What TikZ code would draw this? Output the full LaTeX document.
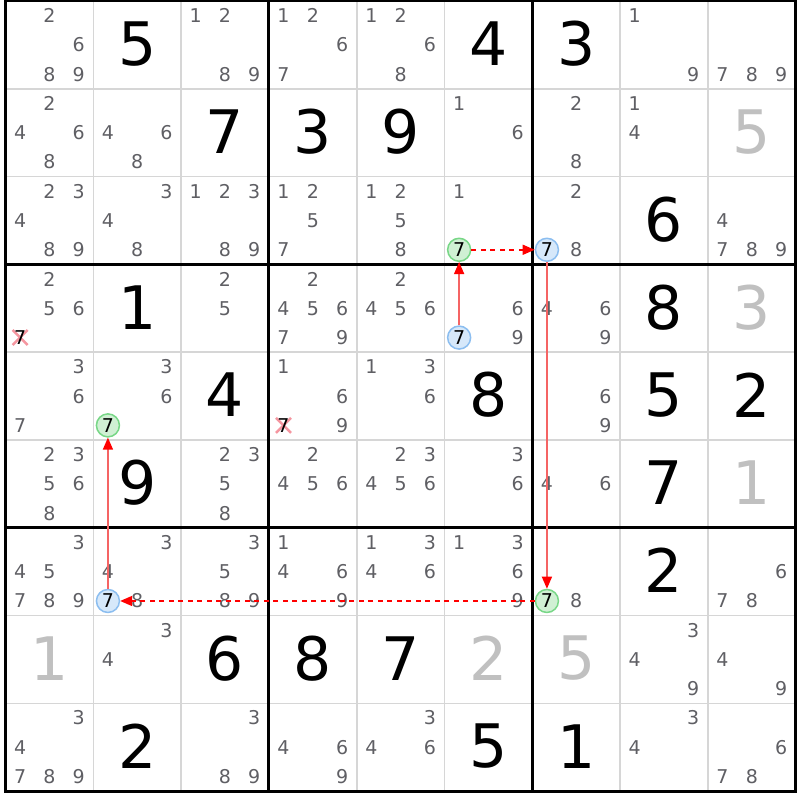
\documentclass[tikz,border=0pt]{standalone}
\usepackage{fontspec}
\setmainfont{DejaVu Sans}
\usetikzlibrary{arrows.meta}
\definecolor{candcol}{RGB}{95,95,100}
\definecolor{givgray}{RGB}{192,192,192}
\definecolor{gridthin}{RGB}{214,214,214}
\definecolor{bluefill}{RGB}{214,232,250}
\definecolor{bluedraw}{RGB}{140,190,240}
\definecolor{greenfill}{RGB}{208,240,212}
\definecolor{greendraw}{RGB}{120,215,135}
\definecolor{xcol}{RGB}{245,150,160}
\definecolor{solidred}{RGB}{245,100,100}
\newcommand\cellcands[3]{%
  \foreach \n in {#3}{%
    \node[cand] (k-#1-#2-\n) at ({5.5+(#2-1)*87.8+14.63+mod(\n-1,3)*29.27},{1+(#1-1)*87.8+14.63+floor((\n-1)/3)*29.27}) {\n};
  }}
\newcommand\hnode[5]{%
  \node[#4] (#5) at ({5.5+(#2-1)*87.8+14.63+mod(#3-1,3)*29.27},{1+(#1-1)*87.8+14.63+floor((#3-1)/3)*29.27}) {#3};}
\newcommand\xmark[3]{%
  \coordinate (x-#1-#2) at ({5.5+(#2-1)*87.8+14.63+mod(#3-1,3)*29.27},{1+(#1-1)*87.8+14.63+floor((#3-1)/3)*29.27});
  \draw[xline] ([shift={(-7.5,-7.5)}]x-#1-#2) -- ([shift={(7.5,7.5)}]x-#1-#2);
  \draw[xline] ([shift={(-7.5,7.5)}]x-#1-#2) -- ([shift={(7.5,-7.5)}]x-#1-#2);
  \node[candx] (kx-#1-#2) at (x-#1-#2) {#3};}
\newcommand\given[4]{%
  \node[#4] (g-#1-#2) at ({5.5+(#2-0.5)*87.8},{1+(#1-0.5)*87.8-1}) {#3};}
\begin{document}
\begin{tikzpicture}[x=1pt,y=-1pt,
  cand/.style={text=candcol,font=\fontsize{19}{20}\selectfont,inner sep=0pt,anchor=center},
  candx/.style={text=black,font=\fontsize{19}{20}\selectfont,inner sep=0pt,anchor=center},
  big/.style={text=black,font=\fontsize{60}{62}\selectfont,inner sep=0pt,anchor=center},
  biggray/.style={big,text=givgray},
  bluec/.style={circle,minimum size=23pt,inner sep=0pt,fill=bluefill,draw=bluedraw,line width=1.5pt,text=black,font=\fontsize{19}{20}\selectfont},
  greenc/.style={circle,minimum size=23pt,inner sep=0pt,fill=greenfill,draw=greendraw,line width=1.5pt,text=black,font=\fontsize{19}{20}\selectfont},
  xline/.style={draw=xcol,line width=2.5pt},
  thinline/.style={draw=gridthin,line width=1.6pt},
  thickline/.style={draw=black,line width=3pt},
  strong/.style={draw=solidred,line width=1.5pt,-{Triangle[length=12pt,width=10pt,color=red,fill=red]}},
  weak/.style={draw=red,line width=1.5pt,dash pattern=on 5pt off 4.5pt,-{Triangle[length=12pt,width=10pt,color=red,fill=red]}}]
\useasboundingbox (0,0) rectangle (800,800);
\fill[white] (0,0) rectangle (800,800);
% grid
\foreach \i in {1,2,4,5,7,8}{
  \draw[thinline] ({5.5+\i*87.8},1) -- ({5.5+\i*87.8},791.2);
  \draw[thinline] (5.5,{1+\i*87.8}) -- (795.7,{1+\i*87.8});
}
\foreach \i in {0,3,6,9}{
  \draw[thickline] ({5.5+\i*87.8},-0.5) -- ({5.5+\i*87.8},792.7);
  \draw[thickline] (4,{1+\i*87.8}) -- (797.2,{1+\i*87.8});
}
% givens
\given{1}{2}{5}{big}
\given{1}{6}{4}{big}
\given{1}{7}{3}{big}
\given{2}{3}{7}{big}
\given{2}{4}{3}{big}
\given{2}{5}{9}{big}
\given{2}{9}{5}{biggray}
\given{3}{8}{6}{big}
\given{4}{2}{1}{big}
\given{4}{8}{8}{big}
\given{4}{9}{3}{biggray}
\given{5}{3}{4}{big}
\given{5}{6}{8}{big}
\given{5}{8}{5}{big}
\given{5}{9}{2}{big}
\given{6}{2}{9}{big}
\given{6}{8}{7}{big}
\given{6}{9}{1}{biggray}
\given{7}{8}{2}{big}
\given{8}{1}{1}{biggray}
\given{8}{3}{6}{big}
\given{8}{4}{8}{big}
\given{8}{5}{7}{big}
\given{8}{6}{2}{biggray}
\given{8}{7}{5}{biggray}
\given{9}{2}{2}{big}
\given{9}{6}{5}{big}
\given{9}{7}{1}{big}
% candidates
\cellcands{1}{1}{2,6,8,9}
\cellcands{1}{3}{1,2,8,9}
\cellcands{1}{4}{1,2,6,7}
\cellcands{1}{5}{1,2,6,8}
\cellcands{1}{8}{1,9}
\cellcands{1}{9}{7,8,9}
\cellcands{2}{1}{2,4,6,8}
\cellcands{2}{2}{4,6,8}
\cellcands{2}{6}{1,6}
\cellcands{2}{7}{2,8}
\cellcands{2}{8}{1,4}
\cellcands{3}{1}{2,3,4,8,9}
\cellcands{3}{2}{3,4,8}
\cellcands{3}{3}{1,2,3,8,9}
\cellcands{3}{4}{1,2,5,7}
\cellcands{3}{5}{1,2,5,8}
\cellcands{3}{6}{1}
\cellcands{3}{7}{2,8}
\cellcands{3}{9}{4,7,8,9}
\cellcands{4}{1}{2,5,6}
\cellcands{4}{3}{2,5}
\cellcands{4}{4}{2,4,5,6,7,9}
\cellcands{4}{5}{2,4,5,6}
\cellcands{4}{6}{6,9}
\cellcands{4}{7}{4,6,9}
\cellcands{5}{1}{3,6,7}
\cellcands{5}{2}{3,6}
\cellcands{5}{4}{1,6,9}
\cellcands{5}{5}{1,3,6}
\cellcands{5}{7}{6,9}
\cellcands{6}{1}{2,3,5,6,8}
\cellcands{6}{3}{2,3,5,8}
\cellcands{6}{4}{2,4,5,6}
\cellcands{6}{5}{2,3,4,5,6}
\cellcands{6}{6}{3,6}
\cellcands{6}{7}{4,6}
\cellcands{7}{1}{3,4,5,7,8,9}
\cellcands{7}{2}{3,4,8}
\cellcands{7}{3}{3,5,8,9}
\cellcands{7}{4}{1,4,6,9}
\cellcands{7}{5}{1,3,4,6}
\cellcands{7}{6}{1,3,6,9}
\cellcands{7}{7}{8}
\cellcands{7}{9}{6,7,8}
\cellcands{8}{2}{3,4}
\cellcands{8}{8}{3,4,9}
\cellcands{8}{9}{4,9}
\cellcands{9}{1}{3,4,7,8,9}
\cellcands{9}{3}{3,8,9}
\cellcands{9}{4}{4,6,9}
\cellcands{9}{5}{3,4,6}
\cellcands{9}{8}{3,4}
\cellcands{9}{9}{6,7,8}
% eliminated
\xmark{4}{1}{7}
\xmark{5}{4}{7}
% chain cells
\hnode{4}{6}{7}{bluec}{b1}
\hnode{3}{6}{7}{greenc}{g1}
\hnode{3}{7}{7}{bluec}{b2}
\hnode{7}{7}{7}{greenc}{g2}
\hnode{7}{2}{7}{bluec}{b3}
\hnode{5}{2}{7}{greenc}{g3}
% links
\draw[strong] (b1) -- (g1);
\draw[weak] (g1) -- (b2);
\draw[strong] (b2) -- (g2);
\draw[weak] (g2) -- (b3);
\draw[strong] (b3) -- (g3);
\end{tikzpicture}
\end{document}
